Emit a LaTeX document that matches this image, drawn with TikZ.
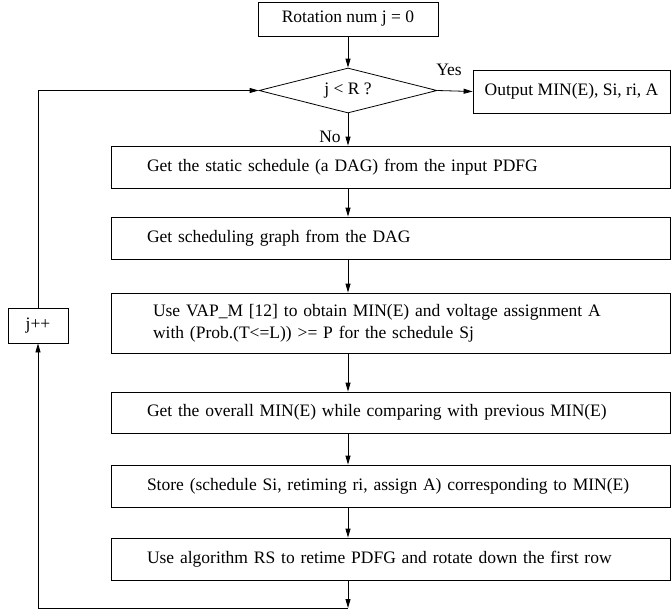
\documentclass[tikz,border=0pt]{standalone}
\usepackage{fontspec}
\setmainfont{Liberation Serif}
\usetikzlibrary{shapes.geometric,arrows.meta}
\begin{document}
\begin{tikzpicture}[x=1pt,y=-1pt,
  font=\fontsize{17.5}{22}\selectfont,
  line width=0.8pt,
  arr/.style={-{Triangle[length=9pt,width=5pt]}},
  plainbox/.style={draw,rectangle,inner sep=0pt,minimum height=#1},
  wide/.style={draw,rectangle,minimum width=559pt,minimum height=#1,
    text width=487pt,align=left,inner xsep=36pt,inner ysep=0pt},
  lbl/.style={inner sep=0pt}]
\useasboundingbox (0,0) rectangle (671,613);

\node[plainbox=34pt,minimum width=180pt] (start) at (348,19) {Rotation num j = 0};
\node[draw,diamond,inner sep=0pt,minimum width=178pt,minimum height=45pt] (dec) at (348,90.5) {\makebox[0pt]{j < R ?}};
\node[plainbox=43pt,minimum width=197pt] (out) at (571.5,91.5) {Output MIN(E), Si, ri, A};
\node[lbl] (yes) at (449,70) {Yes};
\node[lbl] (no) at (330,137) {No};

\node[wide=42pt] (b1) at (390.5,167) {Get the static schedule (a DAG) from the input PDFG};
\node[wide=42pt] (b2) at (390.5,238) {Get scheduling graph from the DAG};
\node[draw,rectangle,minimum width=559pt,minimum height=60pt,text width=475pt,align=left,inner xsep=42pt,inner ysep=0pt] (b3) at (390.5,323) {Use VAP\_M [12] to obtain MIN(E) and voltage assignment A\\with (Prob.(T<=L)) >= P for the schedule Sj};
\node[wide=41pt] (b4) at (390.5,412.5) {Get the overall MIN(E) while comparing with previous MIN(E)};
\node[wide=42pt] (b5) at (390.5,486) {Store (schedule Si, retiming ri, assign A) corresponding to MIN(E)};
\node[wide=42pt] (b6) at (390.5,559) {Use algorithm RS to retime PDFG and rotate down the first row};

\node[plainbox=35pt,minimum width=60pt] (jpp) at (38,325.5) {j++};
\coordinate (bot) at (348,608);

\draw[arr] (start.south) -- (dec.north);
\draw[arr] (dec.east) -- (out.west);
\draw[arr] (dec.south) -- (dec.south |- b1.north);
\draw[arr] (b1.south -| dec.south) -- (b2.north -| dec.south);
\draw[arr] (b2.south -| dec.south) -- (b3.north -| dec.south);
\draw[arr] (b3.south -| dec.south) -- (b4.north -| dec.south);
\draw[arr] (b4.south -| dec.south) -- (b5.north -| dec.south);
\draw[arr] (b5.south -| dec.south) -- (b6.north -| dec.south);
\draw[arr] (b6.south -| dec.south) -- (bot);
\draw[arr] (bot) -| (jpp.south);
\draw[arr] (jpp.north) |- (dec.west);
\end{tikzpicture}
\end{document}
